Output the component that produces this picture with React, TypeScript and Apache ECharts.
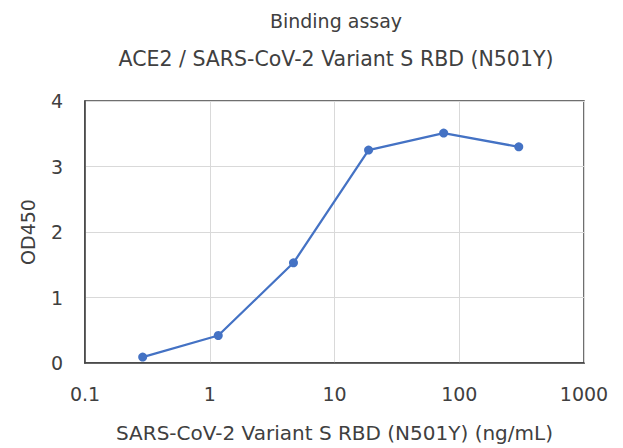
import React, { useEffect, useRef } from "react";
import * as echarts from "echarts";

const concentrations = [0.29, 1.17, 4.69, 18.75, 75, 300];
const od450 = [0.09, 0.42, 1.53, 3.25, 3.51, 3.3];
const yTicks = [0, 1, 2, 3, 4];
const titleText = "Binding assay";
const subtitleText = "ACE2 / SARS-CoV-2 Variant S RBD (N501Y)";
const xName = "SARS-CoV-2 Variant S RBD (N501Y) (ng/mL)";
const yName = "OD450";

const FONT = "DejaVu Sans";
const TXT = "#404040";

export default function App() {
  const ref = useRef<HTMLDivElement>(null);
  useEffect(() => {
    if (!ref.current) return;
    const chart = echarts.init(ref.current, null, { renderer: "svg" });
    chart.setOption({
      animation: false,
      backgroundColor: "#ffffff",
      title: [
        {
          text: titleText,
          left: 331,
          textAlign: "center",
          top: 6,
          textStyle: { fontFamily: FONT, fontSize: 19, fontWeight: "normal", color: TXT },
        },
        {
          text: subtitleText,
          left: 331,
          textAlign: "center",
          top: 43,
          textStyle: { fontFamily: FONT, fontSize: 20.5, fontWeight: "normal", color: TXT },
        },
      ],
      grid: {
        left: 85,
        right: 39,
        top: 101,
        bottom: 82,
        show: true,
        borderColor: "#404040",
        borderWidth: 1.5,
        containLabel: false,
      },
      xAxis: {
        type: "log",
        logBase: 10,
        min: 0.1,
        max: 1000,
        name: xName,
        nameLocation: "middle",
        nameGap: 60,
        nameTextStyle: { fontFamily: FONT, fontSize: 20, color: TXT },
        axisLine: { show: true, lineStyle: { color: "#404040", width: 1.5 } },
        axisTick: { show: false },
        axisLabel: {
          fontFamily: FONT,
          fontSize: 19,
          color: TXT,
          margin: 21,
          formatter: (v: number) => String(Math.round(v * 10) / 10),
        },
        splitLine: { show: true, lineStyle: { color: "#d9d9d9", width: 1 } },
      },
      yAxis: {
        type: "value",
        min: 0,
        max: 4,
        interval: 1,
        name: yName,
        nameLocation: "middle",
        nameGap: 48,
        nameRotate: 90,
        nameTextStyle: { fontFamily: FONT, fontSize: 19, color: TXT },
        axisLine: { show: true, lineStyle: { color: "#404040", width: 1.5 } },
        axisTick: { show: false },
        axisLabel: {
          fontFamily: FONT,
          fontSize: 19,
          color: TXT,
          margin: 22,
          formatter: (v: number) => (yTicks.includes(v) ? String(v) : ""),
        },
        splitLine: { show: true, lineStyle: { color: "#d9d9d9", width: 1 } },
      },
      series: [
        {
          type: "line",
          data: concentrations.map((c, i) => [c, od450[i]]),
          symbol: "circle",
          symbolSize: 9,
          lineStyle: { color: "#4472C4", width: 2.25 },
          itemStyle: { color: "#4472C4" },
        },
      ],
    });
    return () => chart.dispose();
  }, []);
  return (
    <div
      ref={ref}
      style={{ position: "fixed", left: 0, top: 0, width: 623, height: 448 }}
    />
  );
}
